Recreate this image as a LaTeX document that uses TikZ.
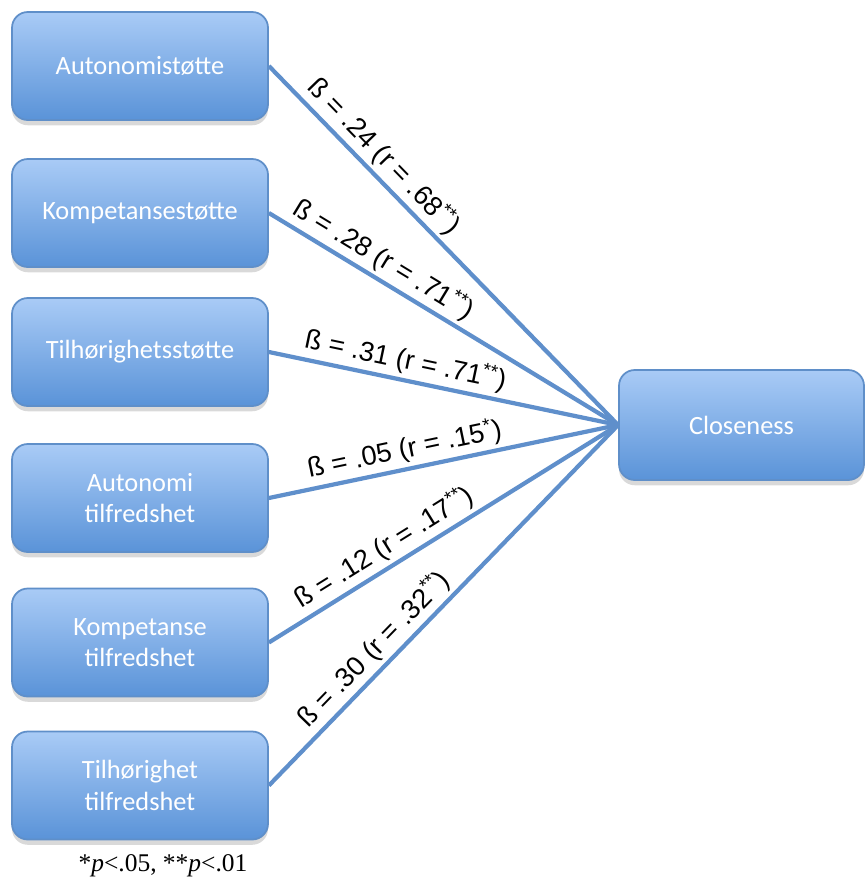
\documentclass[tikz,border=0pt]{standalone}
\usepackage{fontspec}
\setmainfont{Liberation Serif}
\newfontfamily\boxfont{Carlito}
\newfontfamily\lblfont{Liberation Sans}
\usepackage{tikz}
\usetikzlibrary{shadows,positioning}
\definecolor{boxTop}{HTML}{A9CBF6}
\definecolor{boxBot}{HTML}{5A93D8}
\definecolor{boxEdge}{HTML}{5F8FC9}
\definecolor{pathBlue}{HTML}{5F8FCB}

\begin{document}
\begin{tikzpicture}[
    predictor/.style={draw=boxEdge, line width=1pt, rounded corners=9pt,
                  top color=boxTop, bottom color=boxBot,
                  drop shadow={shadow xshift=0pt, shadow yshift=-3pt, opacity=0.3},
                  minimum width=5.12cm, minimum height=2.16cm,
                  text=white, align=center,
                  font=\boxfont\fontsize{15}{18}\selectfont}, % Calibri look
    outcome/.style={predictor, minimum width=4.9cm, minimum height=2.2cm},
    pathline/.style={pathBlue, line width=2.4pt},
    coef/.style={sloped, above, inner sep=2pt, text=black,
                  font=\lblfont\fontsize{15.5}{17}\selectfont},
    note/.style={font=\fontsize{14.5}{16}\selectfont},
]
\useasboundingbox (0,0) rectangle (17.32,-17.72);

%-----------------------------------------------------------------------
% predictors (left column)
\foreach \N/\Y/\Txt in {1/-1.32/{Autonomistøtte},
                        2/-4.26/{Kompetansestøtte},
                        3/-7.04/{Tilhørighetsstøtte},
                        4/-9.96/{Autonomi\\tilfredshet},
                        5/-12.85/{Kompetanse\\tilfredshet},
                        6/-15.71/{Tilhørighet\\tilfredshet}}
{
  \node[predictor] (a\N) at (2.8,\Y) {\Txt};
}

% outcome
\node[outcome] (cl) at (14.83,-8.5) {Closeness};

%-----------------------------------------------------------------------
% paths with standardised coefficients
\foreach \N/\P/\Lbl in {1/.29/{ß = .24 (r = .68\textsuperscript{**})},
                        2/.30/{ß = .28 (r = .71\textsuperscript{**})},
                        3/.38/{ß = .31 (r = .71\textsuperscript{**})},
                        4/.40/{ß = .05 (r = .15\textsuperscript{*})},
                        5/.36/{ß = .12 (r = .17\textsuperscript{**})},
                        6/.34/{ß = .30 (r = .32\textsuperscript{**})}}
{
  \draw[pathline] (a\N.east) -- (cl.west) node[coef,pos=\P] (c\N) {\Lbl};
}

%-----------------------------------------------------------------------
% significance note
\node[note] (fn) at (3.26,-17.32) {*\textit{p}<.05, **\textit{p}<.01};

\end{tikzpicture}
\end{document}
